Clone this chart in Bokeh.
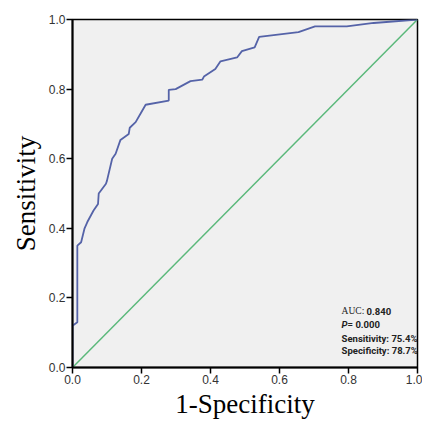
from bokeh.plotting import figure
from bokeh.models import Range1d, FixedTicker, PrintfTickFormatter, Label
from bokeh.embed import file_html
from bokeh.resources import INLINE

# ROC curve points (1-specificity, sensitivity)
fpr = [0.0, 0.0, 0.014, 0.014, 0.025, 0.035, 0.043, 0.061, 0.074, 0.076, 0.097, 0.100,
       0.115, 0.125, 0.139, 0.163, 0.166, 0.183, 0.197, 0.212, 0.279, 0.279, 0.299,
       0.342, 0.376, 0.381, 0.414, 0.429, 0.477, 0.491, 0.528, 0.541, 0.655, 0.703,
       0.795, 0.873, 1.0]
tpr = [0.0, 0.12, 0.13, 0.35, 0.36, 0.40, 0.418, 0.451, 0.47, 0.50, 0.528, 0.537,
       0.60, 0.614, 0.654, 0.671, 0.689, 0.705, 0.729, 0.755, 0.767, 0.798, 0.80,
       0.823, 0.827, 0.836, 0.858, 0.88, 0.891, 0.909, 0.92, 0.95, 0.964, 0.98,
       0.98, 0.99, 1.0]
ref_x = [0.0, 1.0]
ref_y = [0.0, 1.0]
ticks = [0.0, 0.2, 0.4, 0.6, 0.8, 1.0]
auc_text = "0.840"
p_text = "= 0.000"
sens_text = "Sensitivity: 75.4%"
spec_text = "Specificity: 78.7%"

p = figure(width=422, height=424, output_backend="svg", toolbar_location=None,
           x_range=Range1d(0, 1), y_range=Range1d(0, 1),
           min_border_left=72, min_border_right=5, min_border_top=19, min_border_bottom=57)
p.background_fill_color = "#f0f0f0"
p.border_fill_color = "white"
p.outline_line_color = "black"
p.outline_line_width = 1.5
p.xgrid.visible = False
p.ygrid.visible = False

for ax in (p.xaxis[0], p.yaxis[0]):
    ax.ticker = FixedTicker(ticks=ticks)
    ax.formatter = PrintfTickFormatter(format="%.1f")
    ax.minor_tick_line_color = None
    ax.major_tick_in = 0
    ax.major_tick_out = 6
    ax.major_tick_line_color = "black"
    ax.major_tick_line_width = 1.5
    ax.axis_line_color = "black"
    ax.axis_line_width = 2
    ax.major_label_text_font = "Liberation Sans"
    ax.major_label_text_font_size = "12px"
    ax.major_label_text_color = "#333333"
    ax.major_label_standoff = 1
    ax.axis_label_text_font = "Liberation Serif"
    ax.axis_label_text_font_size = "27px"
    ax.axis_label_text_font_style = "normal"
    ax.axis_label_text_color = "black"

p.xaxis.axis_label = "1-Specificity"
p.yaxis.axis_label = "Sensitivity"
p.xaxis.axis_label_standoff = 2
p.yaxis.axis_label_standoff = 5

p.line(ref_x, ref_y, line_color="#5ab87a", line_width=1.5)
p.line(fpr, tpr, line_color="#5563a8", line_width=1.8)

lx = 0.78
common = dict(x_units="data", y_units="data", text_baseline="middle", text_color="#222222")
bold = dict(text_font="Roboto", text_font_style="bold", text_font_size="9.5px")
p.add_layout(Label(x=lx, y=0.161, text="AUC:", text_font="Liberation Serif",
                   text_font_size="9.5px", **common))
p.add_layout(Label(x=lx, y=0.161, x_offset=25, text=auc_text, **bold, **common))
p.add_layout(Label(x=lx, y=0.124, text="P", text_font="Roboto",
                   text_font_style="bold italic", text_font_size="9.5px", **common))
p.add_layout(Label(x=lx, y=0.124, x_offset=6, text=p_text, **bold, **common))
p.add_layout(Label(x=lx, y=0.083, text=sens_text, **bold, **common))
p.add_layout(Label(x=lx, y=0.049, text=spec_text, **bold, **common))

open("out.html", "w").write(file_html(p, INLINE))
